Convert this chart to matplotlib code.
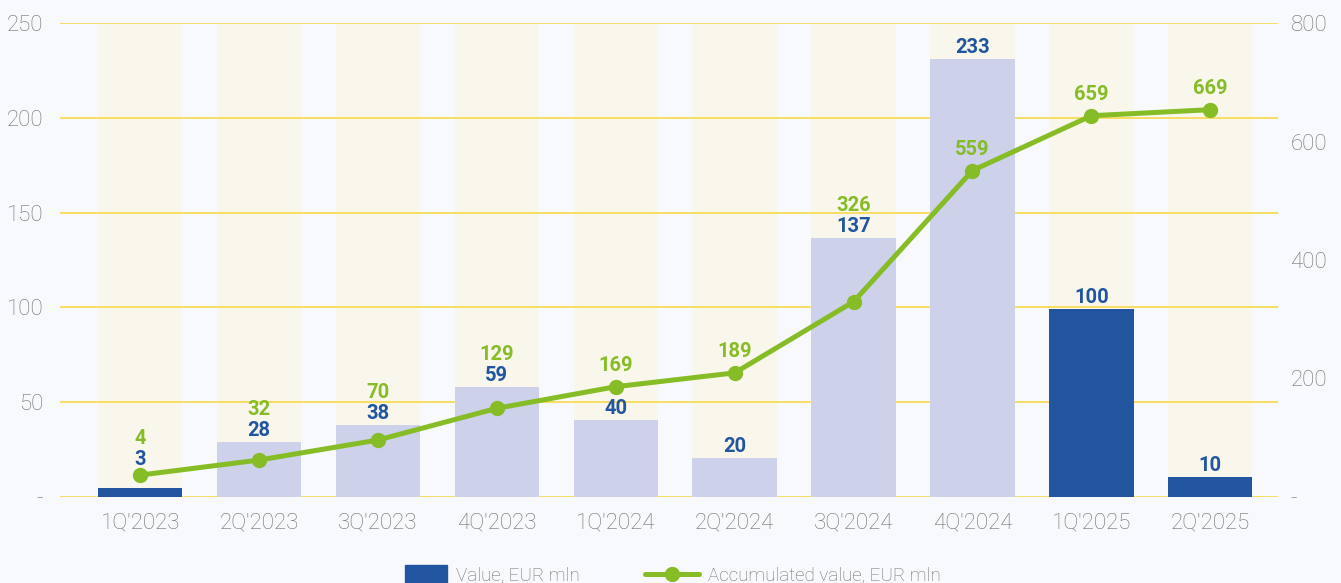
import matplotlib
matplotlib.use("Agg")
import matplotlib.pyplot as plt
from matplotlib.patches import Rectangle
from matplotlib.lines import Line2D
import numpy as np

# ---------------- data ----------------
quarters = ["1Q'2023", "2Q'2023", "3Q'2023", "4Q'2023", "1Q'2024",
            "2Q'2024", "3Q'2024", "4Q'2024", "1Q'2025", "2Q'2025"]
values = [4.7, 29, 38, 58, 40.5, 20.5, 136.5, 231, 99, 10.5]
value_labels = ["3", "28", "38", "59", "40", "20", "137", "233", "100", "10"]
accumulated = [37, 62.4, 96.2, 149.7, 186.2, 209.5, 329.6, 551, 643.5, 653.7]
accumulated_labels = ["4", "32", "70", "129", "169", "189", "326", "559", "659", "669"]
left_ticks = [0, 50, 100, 150, 200, 250]
right_ticks = [0, 200, 400, 600, 800]

# ---------------- style ----------------
DARK = "#2155a0"
LIGHT = "#cdd1ea"
bar_colors = [DARK, LIGHT, LIGHT, LIGHT, LIGHT, LIGHT, LIGHT, LIGHT, DARK, DARK]
COLBG = "#f9f7ec"
GREEN = "#86bc25"
GRID = "#f9d94a"
TICK = "#6e6e6e"
BG = "#f8f9fd"
FONT = "Roboto"

W, H = 1341, 583
fig = plt.figure(figsize=(W / 100, H / 100), dpi=100, facecolor=BG)
ax_l, ax_b, ax_r, ax_t = 60, 497, 1278, 23
ax = fig.add_axes([ax_l / W, 1 - ax_b / H, (ax_r - ax_l) / W, (ax_b - ax_t) / H])
ax.set_facecolor("none")
ax2 = ax.twinx()

x = np.arange(len(quarters))
ymax_l, ymax_r = left_ticks[-1], right_ticks[-1]
width = 0.71

# background columns
ax.bar(x, [ymax_l] * len(x), width=width, color=COLBG, zorder=1, linewidth=0)
# value bars
ax.bar(x, values, width=width, color=bar_colors, zorder=2, linewidth=0)

ax.set_xlim(-0.675, len(x) - 1 + 0.57)
ax.set_ylim(0, ymax_l)
ax2.set_ylim(0, ymax_r)
ax.set_axisbelow("line")
ax.yaxis.grid(True, color=GRID, linewidth=1.2, zorder=1.5)
ax.xaxis.grid(False)

for a in (ax, ax2):
    for s in a.spines.values():
        s.set_visible(False)

TFS = 16
ax.set_xticks(x)
ax.set_xticklabels(quarters, fontsize=TFS, color=TICK, family=FONT, fontweight="light")
ax.tick_params(axis="x", length=0, pad=11)
ax.set_yticks(left_ticks)
ax.set_yticklabels(["-" if t == 0 else str(t) for t in left_ticks],
                   fontsize=TFS, color=TICK, family=FONT, fontweight="light")
ax.tick_params(axis="y", length=0, pad=12)
ax2.set_yticks(right_ticks)
ax2.set_yticklabels(["-" if t == 0 else str(t) for t in right_ticks],
                    fontsize=TFS, color=TICK, family=FONT, fontweight="light")
ax2.tick_params(axis="y", length=0, pad=9)

# accumulated line
ax2.plot(x, accumulated, color=GREEN, linewidth=3.6, marker="o", markersize=10,
         solid_capstyle="round", zorder=3)

# ---------------- value labels ----------------
k_l = (ax_b - ax_t) / ymax_l   # px per unit, left
k_r = (ax_b - ax_t) / ymax_r   # px per unit, right
LFS = 14.5
for i in range(len(x)):
    bar_top = values[i] * k_l
    pt = accumulated[i] * k_r
    blue = bar_top + 6
    if 0 < pt - bar_top < 25:
        blue = pt + 10
    green = max(pt + 16, blue + 21)
    if bar_top - pt > 80:
        green = pt + 16
    ax2.text(x[i], blue / k_r, value_labels[i], ha="center", va="baseline",
             fontsize=LFS, fontweight="bold", color=DARK, family=FONT, zorder=5)
    ax2.text(x[i], green / k_r, accumulated_labels[i], ha="center", va="baseline",
             fontsize=LFS, fontweight="bold", color=GREEN, family=FONT, zorder=5)

# ---------------- legend (bottom, partly clipped) ----------------
fig.patches.append(Rectangle((405 / W, 0), 42 / W, (H - 565) / H,
                             transform=fig.transFigure, color=DARK, figure=fig))
fig.text(456 / W, 1 - 575 / H, "Value, EUR mln", fontsize=13.5, color=TICK,
         family=FONT, fontweight="light", va="center", ha="left")
fig.lines.append(Line2D([645 / W, 699 / W], [1 - 574 / H, 1 - 574 / H],
                        transform=fig.transFigure, color=GREEN, linewidth=3.6,
                        solid_capstyle="round", figure=fig))
fig.lines.append(Line2D([672 / W], [1 - 574 / H], transform=fig.transFigure,
                        color=GREEN, marker="o", markersize=10, figure=fig))
fig.text(708 / W, 1 - 575 / H, "Accumulated value, EUR mln", fontsize=13.5, color=TICK,
         family=FONT, fontweight="light", va="center", ha="left")

fig.savefig("out.png", dpi=100, facecolor=BG)
